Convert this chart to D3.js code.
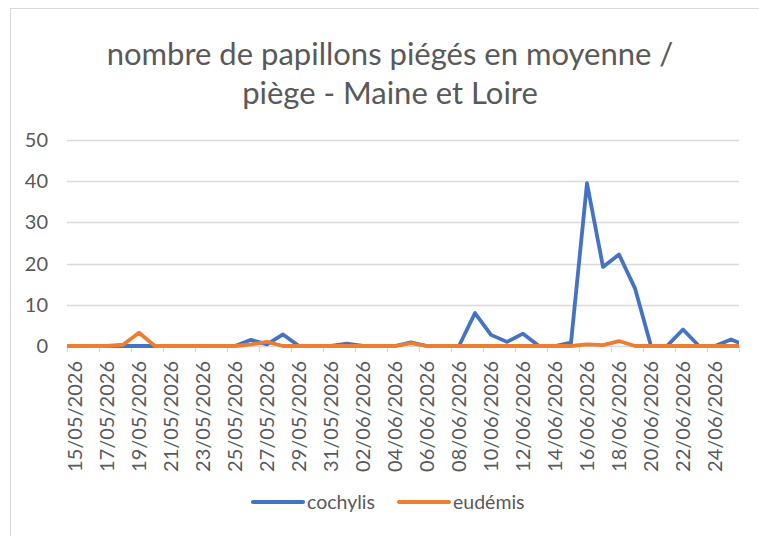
<!DOCTYPE html>
<html>
<head>
<meta charset="utf-8">
<script src="https://cdn.jsdelivr.net/npm/d3@7"></script>
<style>
  body { margin: 0; background: #ffffff; }
  text { font-family: Lato, "Open Sans", sans-serif; fill: #595959; }
</style>
</head>
<body>
<div id="chart"></div>
<script>
width = 759
height = 536

// observation dates (the first and last fall just outside the visible axis)
let dates = ["14/05/2026", "15/05/2026", "16/05/2026", "17/05/2026", "18/05/2026", "19/05/2026",
    "20/05/2026", "21/05/2026", "22/05/2026", "23/05/2026", "24/05/2026", "25/05/2026",
    "26/05/2026", "27/05/2026", "28/05/2026", "29/05/2026", "30/05/2026", "31/05/2026",
    "01/06/2026", "02/06/2026", "03/06/2026", "04/06/2026", "05/06/2026", "06/06/2026",
    "07/06/2026", "08/06/2026", "09/06/2026", "10/06/2026", "11/06/2026", "12/06/2026",
    "13/06/2026", "14/06/2026", "15/06/2026", "16/06/2026", "17/06/2026", "18/06/2026",
    "19/06/2026", "20/06/2026", "21/06/2026", "22/06/2026", "23/06/2026", "24/06/2026",
    "25/06/2026", "26/06/2026"]

let cochylis = [0, 0, 0, 0, 0, 0, 0, 0, 0, 0, 0, 0, 1.5, 0.4, 2.8, 0, 0, 0, 0.6, 0, 0, 0, 0.9,
    0, 0, 0, 8, 2.7, 1, 3, 0, 0, 0.8, 39.5, 19.2, 22.2, 14, 0, 0, 4, 0, 0, 1.6, 0]

let eudemis = [0, 0, 0, 0, 0.3, 3.2, 0, 0, 0, 0, 0, 0, 0.4, 1, 0, 0, 0, 0, 0, 0, 0, 0, 0.7,
    0, 0, 0, 0, 0, 0, 0, 0, 0, 0, 0.4, 0.2, 1.2, 0, 0, 0, 0, 0, 0, 0, 0]

let axisStart = "15/05/2026"
let axisEnd = "25/06/2026"
let labelDates = ["15/05/2026", "17/05/2026", "19/05/2026", "21/05/2026", "23/05/2026",
    "25/05/2026", "27/05/2026", "29/05/2026", "31/05/2026", "02/06/2026", "04/06/2026",
    "06/06/2026", "08/06/2026", "10/06/2026", "12/06/2026", "14/06/2026", "16/06/2026",
    "18/06/2026", "20/06/2026", "22/06/2026", "24/06/2026"]
let yTicks = [0, 10, 20, 30, 40, 50]
let seriesNames = ["cochylis", "eudémis"]
let seriesColors = ["#4472C4", "#ED7D31"]

let parse = d3.utcParse("%d/%m/%Y")

let svg = d3.select("#chart")
    .append("svg")
    .attr("width", width)
    .attr("height", height)

// chart frame (only left and top visible in the picture)
svg.append("rect")
    .attr("x", 10.5)
    .attr("y", 8.5)
    .attr("width", 780)
    .attr("height", 560)
    .attr("fill", "none")
    .attr("stroke", "#d9d9d9")

let title = svg.append("text")
    .attr("text-anchor", "middle")
    .style("font-size", "31px")
title.append("tspan").attr("x", 390).attr("y", 65).text("nombre de papillons piégés en moyenne /")
title.append("tspan").attr("x", 390).attr("y", 104).text("piège - Maine et Loire")

let plot = { left: 67, right: 739, top: 140, bottom: 346 }

// each day is a category: half a day of room either side
let x = d3.scaleUtc()
    .domain([d3.utcHour.offset(parse(axisStart), -12), d3.utcHour.offset(parse(axisEnd), 12)])
    .range([plot.left, plot.right])

let y = d3.scaleLinear()
    .domain([0, 50])
    .range([plot.bottom, plot.top])

svg.append("clipPath")
    .attr("id", "plotclip")
    .append("rect")
    .attr("x", plot.left)
    .attr("y", 0)
    .attr("width", plot.right - plot.left)
    .attr("height", height)

// gridlines
svg.append("g")
    .selectAll("line")
    .data(yTicks)
    .join("line")
    .attr("x1", plot.left)
    .attr("x2", plot.right)
    .attr("y1", d => Math.round(y(d)) + 0.5)
    .attr("y2", d => Math.round(y(d)) + 0.5)
    .attr("stroke", "#d9d9d9")
    .attr("stroke-width", 1.3)

// y labels
svg.append("g")
    .selectAll("text")
    .data(yTicks)
    .join("text")
    .attr("x", 48)
    .attr("y", d => y(d))
    .attr("dy", "0.35em")
    .attr("text-anchor", "end")
    .style("font-size", "20px")
    .text(d => d)

// x ticks between categories, every 2 days
let tickPos = labelDates.map(d => x(d3.utcHour.offset(parse(d), -12))).concat([plot.right])
svg.append("g")
    .selectAll("line")
    .data(tickPos)
    .join("line")
    .attr("x1", d => Math.round(d) + 0.5)
    .attr("x2", d => Math.round(d) + 0.5)
    .attr("y1", plot.bottom)
    .attr("y2", plot.bottom + 6)
    .attr("stroke", "#d9d9d9")
    .attr("stroke-width", 1.3)

// x labels, rotated
svg.append("g")
    .selectAll("text")
    .data(labelDates)
    .join("text")
    .attr("transform", d => "translate(" + x(parse(d)) + "," + 361 + ") rotate(-90)")
    .attr("dy", "0.35em")
    .attr("text-anchor", "end")
    .style("font-size", "20px")
    .text(d => d)

let line = d3.line()
    .x((d, i) => x(parse(dates[i])))
    .y(d => y(d))

let lines = svg.append("g")
    .attr("clip-path", "url(#plotclip)")

let series = [cochylis, eudemis]
series.forEach((values, k) => {
    lines.append("path")
        .datum(values)
        .attr("d", line)
        .attr("fill", "none")
        .attr("stroke", seriesColors[k])
        .attr("stroke-width", 3.8)
        .attr("stroke-linejoin", "round")
        .attr("stroke-linecap", "round")
})

// legend
let legendX = [253, 399]
let legend = svg.append("g")
seriesNames.forEach((name, k) => {
    legend.append("line")
        .attr("x1", legendX[k])
        .attr("x2", legendX[k] + 50)
        .attr("y1", 502)
        .attr("y2", 502)
        .attr("stroke", seriesColors[k])
        .attr("stroke-width", 4)
        .attr("stroke-linecap", "round")
    legend.append("text")
        .attr("x", legendX[k] + 54)
        .attr("y", 502)
        .attr("dy", "0.35em")
        .style("font-size", "19.5px")
        .text(name)
})
</script>
</body>
</html>
